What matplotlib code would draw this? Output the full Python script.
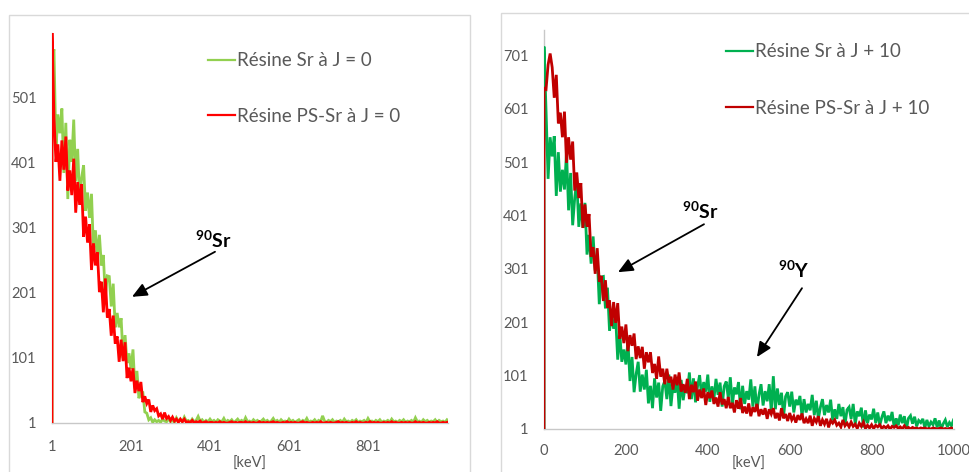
import numpy as np
import matplotlib
matplotlib.use("Agg")
import matplotlib.pyplot as plt
from matplotlib.patches import Rectangle

plt.rcParams['font.family'] = ['Lato', 'DejaVu Sans']
plt.rcParams['mathtext.fontset'] = 'custom'
plt.rcParams['mathtext.rm'] = 'Lato'
plt.rcParams['mathtext.bf'] = 'Lato:bold'

# ---------------- data ----------------
# Left panel: channels 1..1001 step 5, preceded by a zero at channel 1
kev_left = np.r_[1, np.arange(1, 1002, 5)]
left_green = [0,
    560, 575, 421, 475, 446, 484, 385, 462, 345, 436,
    402, 467, 372, 422, 344, 378, 397, 327, 355, 316,
    353, 265, 297, 256, 290, 243, 259, 194, 227, 226,
    180, 215, 148, 170, 148, 162, 101, 136, 93, 108,
    84, 114, 54, 81, 39, 49, 48, 18, 16, 6, 9,
    2, 6, 3, 5, 2, 7, 4, 3, 8, 3,
    5, 2, 9, 4, 6, 3, 10, 4, 5, 2,
    7, 3, 5, 11, 4, 6, 2, 5, 3, 7,
    3, 5, 2, 6, 4, 3, 8, 2, 5, 3,
    6, 2, 4, 7, 3, 5, 2, 9, 3, 4,
    2, 6, 3, 5, 2, 4, 7, 3, 5, 2,
    4, 8, 3, 5, 2, 6, 3, 4, 2, 7,
    3, 5, 2, 4, 6, 2, 5, 3, 8, 2,
    4, 3, 6, 2, 5, 3, 12, 4, 2, 5,
    3, 6, 2, 4, 3, 5, 2, 7, 3, 4,
    2, 5, 3, 6, 2, 4, 3, 5, 2, 8,
    3, 4, 2, 5, 3, 6, 2, 4, 3, 5,
    2, 7, 3, 4, 2, 5, 3, 6, 2, 4,
    3, 5, 2, 9, 3, 4, 2, 6, 3, 5,
    2, 4, 3, 6, 2, 5, 3, 4, 2, 6]
left_red = [0,
    600, 470, 402, 429, 373, 435, 390, 441, 358, 389,
    351, 407, 324, 371, 336, 368, 287, 318, 278, 306,
    236, 277, 243, 263, 202, 218, 171, 223, 163, 176,
    135, 166, 123, 134, 95, 129, 96, 125, 70, 86,
    65, 85, 47, 66, 50, 64, 33, 42, 31, 37,
    18, 28, 20, 23, 12, 15, 7, 17, 8, 11,
    5, 10, 4, 7, 2, 7, 3, 7, 2, 3,
    2, 5, 1, 3, 2, 4, 1, 2, 3, 1, 2,
    2, 1, 2, 1, 3, 1, 2, 1, 1, 2,
    3, 1, 2, 1, 2, 2, 1, 3, 1, 2,
    1, 2, 1, 1, 3, 1, 2, 1, 2, 1,
    2, 3, 1, 2, 1, 1, 2, 1, 3, 1,
    2, 1, 2, 1, 1, 2, 3, 1, 2, 1,
    1, 2, 1, 2, 1, 3, 1, 1, 2, 1,
    2, 1, 1, 2, 3, 1, 2, 1, 2, 1,
    1, 2, 1, 3, 1, 2, 1, 1, 2, 1,
    3, 1, 2, 1, 2, 1, 1, 2, 1, 2,
    1, 3, 1, 2, 1, 1, 2, 1, 2, 1,
    2, 1, 1, 3, 1, 2, 1, 2, 1, 1,
    2, 1, 2, 1, 3, 1, 1, 2, 1, 2]

# Right panel: 0..1000 keV step 5, preceded by a zero at 0
kev_right = np.r_[0, np.arange(0, 1001, 5)]
right_green = [0,
    718, 598, 470, 548, 512, 550, 438, 520, 446, 487,
    450, 521, 411, 481, 383, 434, 467, 380, 424, 378,
    425, 328, 365, 311, 362, 298, 324, 235, 286, 287,
    227, 266, 185, 217, 189, 210, 131, 181, 127, 150,
    122, 166, 91, 136, 70, 104, 127, 71, 103, 75,
    112, 49, 82, 40, 96, 60, 88, 35, 81, 91,
    57, 103, 44, 83, 69, 98, 39, 93, 55, 83,
    68, 107, 57, 96, 51, 81, 102, 62, 89, 71,
    103, 52, 81, 57, 95, 65, 88, 43, 81, 90,
    59, 98, 46, 79, 66, 89, 38, 82, 48, 72,
    56, 94, 43, 81, 35, 65, 85, 45, 72, 53,
    85, 34, 100, 38, 77, 46, 69, 24, 62, 70,
    43, 71, 32, 56, 46, 63, 25, 57, 32, 48,
    36, 65, 27, 54, 20, 42, 57, 27, 46, 32,
    56, 17, 38, 20, 48, 25, 42, 9, 37, 42,
    20, 48, 10, 34, 25, 41, 4, 36, 12, 28,
    19, 39, 12, 32, 8, 23, 34, 12, 26, 16,
    33, 5, 21, 8, 28, 12, 25, 1, 21, 26,
    11, 24, 6, 17, 13, 20, 3, 18, 6, 14,
    9, 21, 4, 17, 1, 11, 18, 5, 13, 7, 18]
right_red = [0,
    640, 638, 684, 705, 679, 622, 665, 574, 594, 548,
    596, 500, 548, 506, 540, 448, 482, 434, 462, 378,
    422, 380, 404, 324, 342, 292, 340, 277, 288, 241,
    280, 228, 242, 194, 239, 200, 237, 170, 193, 162,
    197, 147, 177, 157, 180, 132, 156, 134, 155, 114,
    145, 126, 145, 106, 123, 95, 137, 99, 114, 85,
    114, 88, 99, 75, 103, 83, 107, 71, 85, 69,
    95, 57, 84, 70, 90, 54, 75, 59, 77, 46,
    70, 59, 73, 48, 60, 43, 70, 47, 57, 40,
    61, 40, 50, 32, 55, 39, 59, 31, 43, 30,
    49, 25, 42, 33, 48, 25, 38, 28, 40, 20,
    38, 29, 40, 21, 31, 17, 40, 21, 29, 16,
    31, 18, 25, 13, 27, 18, 30, 12, 20, 12,
    26, 7, 21, 14, 25, 7, 18, 10, 20, 4,
    17, 12, 18, 8, 12, 5, 18, 7, 12, 5,
    14, 6, 10, 2, 12, 6, 14, 2, 8, 3,
    9, 2, 8, 5, 9, 2, 6, 3, 7, 1,
    6, 4, 7, 2, 5, 1, 7, 2, 4, 1,
    4, 2, 3, 1, 3,
    2, 3, 1, 2, 1, 3, 2, 1, 2, 3, 1, 2, 1, 2, 3, 1]

left_labels = ["Résine Sr à J = 0", "Résine PS-Sr à J = 0"]
right_labels = ["Résine Sr à J + 10", "Résine PS-Sr à J + 10"]
left_xticks = [1, 201, 401, 601, 801]
left_yticks = [1, 101, 201, 301, 401, 501]
right_xticks = [0, 200, 400, 600, 800, 1000]
right_yticks = [1, 101, 201, 301, 401, 501, 601, 701]

# ---------------- figure ----------------
W, H = 970, 472
fig = plt.figure(figsize=(W / 100, H / 100), dpi=100)

def fx(px):
    return px / W

def fy(py):
    return 1 - py / H

# panel frames
fig.add_artist(Rectangle((fx(9.5), -0.02), fx(470) - fx(9.5), fy(15) + 0.02,
                         transform=fig.transFigure, fill=False,
                         edgecolor='#D9D9D9', lw=1.0))
fig.add_artist(Rectangle((fx(500.5), -0.02), 1.0, fy(13) + 0.02,
                         transform=fig.transFigure, fill=False,
                         edgecolor='#D9D9D9', lw=1.0))

axL = fig.add_axes([fx(52), fy(423), fx(447.8) - fx(52), fy(33) - fy(423)])
axR = fig.add_axes([fx(544), fy(429), fx(953.5) - fx(544), fy(29.5) - fy(429)])

GRAY_TXT = '#595959'
AXIS_C = '#C8C8C8'
LW = 2.0
TICK_FS = 10.5

def style(ax, xpad):
    for s in ('top', 'right'):
        ax.spines[s].set_visible(False)
    for s in ('left', 'bottom'):
        ax.spines[s].set_color(AXIS_C)
        ax.spines[s].set_linewidth(1.0)
    ax.tick_params(length=0, labelsize=TICK_FS, labelcolor=GRAY_TXT)
    ax.tick_params(axis='y', pad=11)
    ax.tick_params(axis='x', pad=xpad)
    ax.set_facecolor('none')

# left
axL.plot(kev_left, left_green, color='#92D050', lw=LW, label=left_labels[0],
         solid_joinstyle='miter', zorder=3)
axL.plot(kev_left, left_red, color='#FF0000', lw=LW, label=left_labels[1],
         solid_joinstyle='miter', zorder=4)
axL.set_xlim(1, 1003)
axL.set_ylim(1, 600)
axL.set_xticks(left_xticks)
axL.set_yticks(left_yticks)
style(axL, 12)
axL.set_xlabel('[keV]', fontsize=TICK_FS, color=GRAY_TXT, labelpad=2)

# right
axR.plot(kev_right, right_green, color='#00B050', lw=LW, label=right_labels[0],
         solid_joinstyle='miter', zorder=3)
axR.plot(kev_right, right_red, color='#C00000', lw=LW, label=right_labels[1],
         solid_joinstyle='miter', zorder=4)
axR.set_xlim(0, 1000)
axR.set_ylim(1, 750)
axR.set_xticks(right_xticks)
axR.set_yticks(right_yticks)
style(axR, 11)
axR.set_xlabel('[keV]', fontsize=TICK_FS, color=GRAY_TXT, labelpad=-1)

# legends
legL = axL.legend(loc='center left', bbox_to_anchor=(fx(208), fy(88.5)),
                  bbox_transform=fig.transFigure, frameon=False, fontsize=13.5,
                  handlelength=1.45, handletextpad=0.12, labelspacing=2.05,
                  borderpad=0, borderaxespad=0)
legR = axR.legend(loc='center left', bbox_to_anchor=(fx(726), fy(80)),
                  bbox_transform=fig.transFigure, frameon=False, fontsize=13.5,
                  handlelength=1.45, handletextpad=0.12, labelspacing=2.1,
                  borderpad=0, borderaxespad=0)
for leg in (legL, legR):
    for t in leg.get_texts():
        t.set_color(GRAY_TXT)
    for h in leg.get_lines():
        h.set_linewidth(1.6)

# annotations
arrow = dict(arrowstyle='-|>,head_length=0.9,head_width=0.4', color='black',
             lw=1.3, mutation_scale=10, shrinkA=0, shrinkB=0)
axL.annotate('', xy=(203.5, 194.8), xytext=(413.7, 264), arrowprops=arrow)
axL.text(408.6, 266, r'$^{\mathbf{90}}\mathbf{Sr}$', fontsize=14,
         ha='center', va='bottom', color='black')
axR.annotate('', xy=(180.7, 295), xytext=(390.7, 384.9), arrowprops=arrow)
axR.text(381, 390, r'$^{\mathbf{90}}\mathbf{Sr}$', fontsize=14,
         ha='center', va='bottom', color='black')
axR.annotate('', xy=(520, 135.8), xytext=(630, 265), arrowprops=arrow)
axR.text(610.5, 278, r'$^{\mathbf{90}}\mathbf{Y}$', fontsize=14,
         ha='center', va='bottom', color='black')

fig.savefig('out.png', dpi=100)
